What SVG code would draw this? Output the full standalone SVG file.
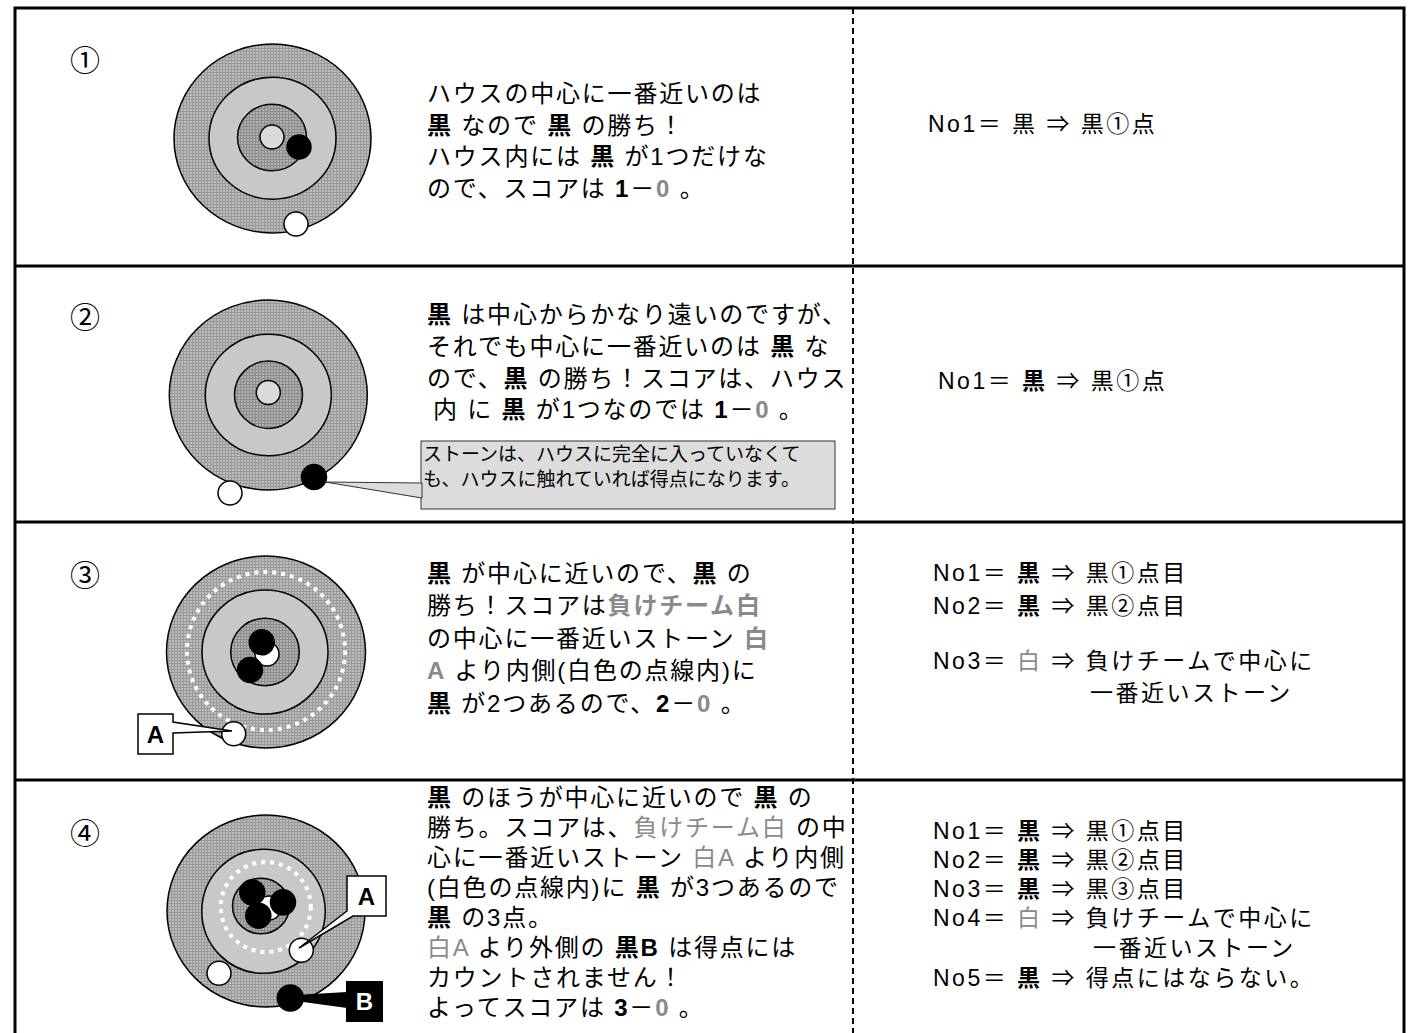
<svg xmlns="http://www.w3.org/2000/svg" width="1410" height="1033" viewBox="0 0 1410 1033">
<style>
.t{font-family:"Liberation Sans","Noto Sans CJK JP",sans-serif;font-size:24px;letter-spacing:1.8px;fill:#000}
.r{font-family:"Liberation Sans","Noto Sans CJK JP",sans-serif;font-size:23px;letter-spacing:2.5px;fill:#000}
.c{font-family:"Liberation Sans","Noto Sans CJK JP",sans-serif;font-size:19px;letter-spacing:0px;fill:#000}
.num{font-family:"Noto Sans CJK JP",sans-serif;font-size:30px;fill:#000;text-anchor:middle}
.lab{font-family:"Liberation Sans",sans-serif;font-size:24px;font-weight:bold;text-anchor:middle}
.b{font-weight:bold}
.g{fill:#8a8a8a}
.ring{stroke:#000;stroke-width:1.5}
.o{fill:url(#hatch)}
.m{fill:#c8c8c8}
.i{fill:url(#hatch2)}
.btn{fill:#dadada;stroke:#000;stroke-width:1.5}
.bk{fill:#000;stroke:#000;stroke-width:1.5}
.wh{fill:#fff;stroke:#000;stroke-width:1.5}
.dot{fill:none;stroke:#fff;stroke-width:4;stroke-dasharray:4 5}
.frame{fill:none;stroke:#000;stroke-width:3}
</style>
<defs>
<pattern id="hatch" width="3" height="3" patternUnits="userSpaceOnUse"><rect width="3" height="3" fill="#bcbcbc"/><path d="M0,0.5H3M0.5,0V3" stroke="#999" stroke-width="1"/></pattern>
<pattern id="hatch2" width="3" height="3" patternUnits="userSpaceOnUse"><rect width="3" height="3" fill="#b0b0b0"/><path d="M0,0.5H3M0.5,0V3" stroke="#8c8c8c" stroke-width="1"/></pattern>
</defs>
<rect width="1410" height="1033" fill="#fff"/>
<g id="table">
<path class="frame" d="M15,1040V8H1404V1040"/>
<line class="frame" x1="15" y1="266" x2="1404" y2="266"/>
<line class="frame" x1="15" y1="522" x2="1404" y2="522"/>
<line class="frame" x1="15" y1="780" x2="1404" y2="780"/>
<line x1="853" y1="8" x2="853" y2="1040" stroke="#000" stroke-width="2" stroke-dasharray="6 4"/>
</g>

<g id="row1">
<text class="num" x="85" y="71">①</text>
<g id="house1">
<ellipse class="ring o" cx="272.5" cy="138.5" rx="98.5" ry="94.5"/>
<ellipse class="ring m" cx="272.5" cy="138.2" rx="63.5" ry="61"/>
<ellipse class="ring i" cx="272" cy="137.5" rx="34.5" ry="33.3"/>
<circle class="btn" cx="272" cy="137" r="12"/>
<circle class="bk" cx="299" cy="147" r="12"/>
<circle class="wh" cx="296" cy="224" r="12"/>
</g>
<g id="text1">
<text class="t" x="427" y="102">ハウスの中心に一番近いのは</text>
<text class="t" x="427" y="134"><tspan class="b">黒</tspan> なので <tspan class="b">黒</tspan> の勝ち！</text>
<text class="t" x="427" y="165">ハウス内には <tspan class="b">黒</tspan> が1つだけな</text>
<text class="t" x="427" y="197">ので、スコアは <tspan class="b">1</tspan>－<tspan class="b g">0</tspan> 。</text>
</g>
<g id="score1">
<text class="r" x="928" y="132">No1＝ 黒 ⇒ 黒①点</text>
</g>
</g>

<g id="row2">
<text class="num" x="85" y="328">②</text>
<g id="house2">
<ellipse class="ring o" cx="268.3" cy="395" rx="99" ry="95"/>
<ellipse class="ring m" cx="268.3" cy="395" rx="63" ry="60.7"/>
<ellipse class="ring i" cx="268.5" cy="394.7" rx="34" ry="33.7"/>
<circle class="btn" cx="268.3" cy="392.5" r="12"/>
<circle class="bk" cx="314" cy="477" r="12.5"/>
<circle class="wh" cx="230" cy="493" r="12"/>
</g>
<g id="text2">
<text class="t" x="427" y="323"><tspan class="b">黒</tspan> は中心からかなり遠いのですが、</text>
<text class="t" x="427" y="355">それでも中心に一番近いのは <tspan class="b">黒</tspan> な</text>
<text class="t" x="427" y="387">ので、<tspan class="b">黒</tspan> の勝ち！スコアは、ハウス</text>
<text class="t" x="433" y="418">内 に <tspan class="b">黒</tspan> が1つなのでは <tspan class="b">1</tspan>－<tspan class="b g">0</tspan> 。</text>
</g>
<g id="callout2">
<rect x="421" y="441" width="414" height="68" fill="#dcdcdc" stroke="#333" stroke-width="1"/>
<text class="c" x="423" y="461">ストーンは、ハウスに完全に入っていなくて</text>
<text class="c" x="423" y="486">も、ハウスに触れていれば得点になります。</text>
</g>
<g id="score2">
<text class="r" x="938" y="389">No1＝ <tspan class="b">黒</tspan> ⇒ 黒①点</text>
</g>
</g>

<g id="row3">
<text class="num" x="85" y="586">③</text>
<g id="house3">
<ellipse class="ring o" cx="266" cy="652" rx="99.5" ry="96"/>
<circle class="dot" cx="266" cy="651" r="79"/>
<ellipse class="ring m" cx="265" cy="652" rx="63" ry="62"/>
<ellipse class="ring i" cx="265" cy="652" rx="34.3" ry="33.7"/>
<circle class="wh" cx="267" cy="654" r="12"/>
<circle class="bk" cx="261.7" cy="642.3" r="12.5"/>
<circle class="bk" cx="250" cy="670" r="12.5"/>
<circle class="wh" cx="233.7" cy="733.7" r="12"/>
</g>
<g id="text3">
<text class="t" x="427" y="582"><tspan class="b">黒</tspan> が中心に近いので、<tspan class="b">黒</tspan> の</text>
<text class="t" x="427" y="614">勝ち！スコアは<tspan class="b g">負けチーム白</tspan></text>
<text class="t" x="427" y="647">の中心に一番近いストーン <tspan class="b g">白</tspan></text>
<text class="t" x="427" y="679"><tspan class="b g">A</tspan> より内側(白色の点線内)に</text>
<text class="t" x="427" y="712"><tspan class="b">黒</tspan> が2つあるので、<tspan class="b">2</tspan>－<tspan class="b g">0</tspan> 。</text>
</g>
<g id="score3">
<text class="r" x="933" y="581">No1＝ <tspan class="b">黒</tspan> ⇒ 黒①点目</text>
<text class="r" x="933" y="614">No2＝ <tspan class="b">黒</tspan> ⇒ 黒②点目</text>
<text class="r" x="933" y="669">No3＝ <tspan class="g">白</tspan> ⇒ 負けチームで中心に</text>
<text class="r" x="1090" y="701">一番近いストーン</text>
</g>
</g>

<g id="row4">
<text class="num" x="85" y="844">④</text>
<g id="house4">
<ellipse class="ring o" cx="266" cy="911" rx="99" ry="96"/>
<ellipse class="ring m" cx="263.5" cy="911.3" rx="61.7" ry="62"/>
<circle class="dot" cx="265.8" cy="907" r="45"/>
<ellipse class="ring i" cx="261" cy="906" rx="28.5" ry="27.8"/>
<circle class="wh" cx="269" cy="908" r="12"/>
<circle class="bk" cx="252.3" cy="892.3" r="12.5"/>
<circle class="bk" cx="283" cy="902.3" r="12.5"/>
<circle class="bk" cx="258.3" cy="915.7" r="12.5"/>
<circle class="wh" cx="301.3" cy="950.3" r="12"/>
<circle class="wh" cx="219" cy="973.3" r="12"/>
<circle class="bk" cx="290.3" cy="998" r="13"/>
</g>
<g id="text4">
<text class="t" x="427" y="806"><tspan class="b">黒</tspan> のほうが中心に近いので <tspan class="b">黒</tspan> の</text>
<text class="t" x="427" y="836">勝ち。スコアは、<tspan class="g">負けチーム白</tspan> の中</text>
<text class="t" x="427" y="866">心に一番近いストーン <tspan class="g">白A</tspan> より内側</text>
<text class="t" x="427" y="896">(白色の点線内)に <tspan class="b">黒</tspan> が3つあるので</text>
<text class="t" x="427" y="926"><tspan class="b">黒</tspan> の3点。</text>
<text class="t" x="427" y="956"><tspan class="g">白A</tspan> より外側の <tspan class="b">黒B</tspan> は得点には</text>
<text class="t" x="427" y="986">カウントされません！</text>
<text class="t" x="427" y="1016">よってスコアは <tspan class="b">3</tspan>－<tspan class="b g">0</tspan> 。</text>
</g>
<g id="score4">
<text class="r" x="933" y="839">No1＝ <tspan class="b">黒</tspan> ⇒ 黒①点目</text>
<text class="r" x="933" y="868">No2＝ <tspan class="b">黒</tspan> ⇒ 黒②点目</text>
<text class="r" x="933" y="897">No3＝ <tspan class="b">黒</tspan> ⇒ 黒③点目</text>
<text class="r" x="933" y="926">No4＝ <tspan class="g">白</tspan> ⇒ 負けチームで中心に</text>
<text class="r" x="1093" y="956">一番近いストーン</text>
<text class="r" x="933" y="986">No5＝ <tspan class="b">黒</tspan> ⇒ 得点にはならない。</text>
</g>
</g>

<g id="connectors">
<path d="M325,482 L422,483 L422,498 Z" fill="#dcdcdc" stroke="#333" stroke-width="1"/>
<path d="M138,714 H173 V722 L232,731 L173,733 V754 H138 Z" fill="#fff" stroke="#000" stroke-width="1.5"/>
<path d="M347,876 H386 V916 H353 L299,948 L347,911 Z" fill="#fff" stroke="#000" stroke-width="1.5"/>
<path d="M296,995 L347,992 L347,1008 L296,1001 Z" fill="#000"/>
<rect x="346" y="981" width="37" height="41" fill="#000"/>
</g>
<g id="labels">
<text class="lab" x="155.5" y="743">A</text>
<text class="lab" x="366.5" y="905">A</text>
<text class="lab" x="364.5" y="1010" fill="#fff">B</text>
</g>
</svg>
